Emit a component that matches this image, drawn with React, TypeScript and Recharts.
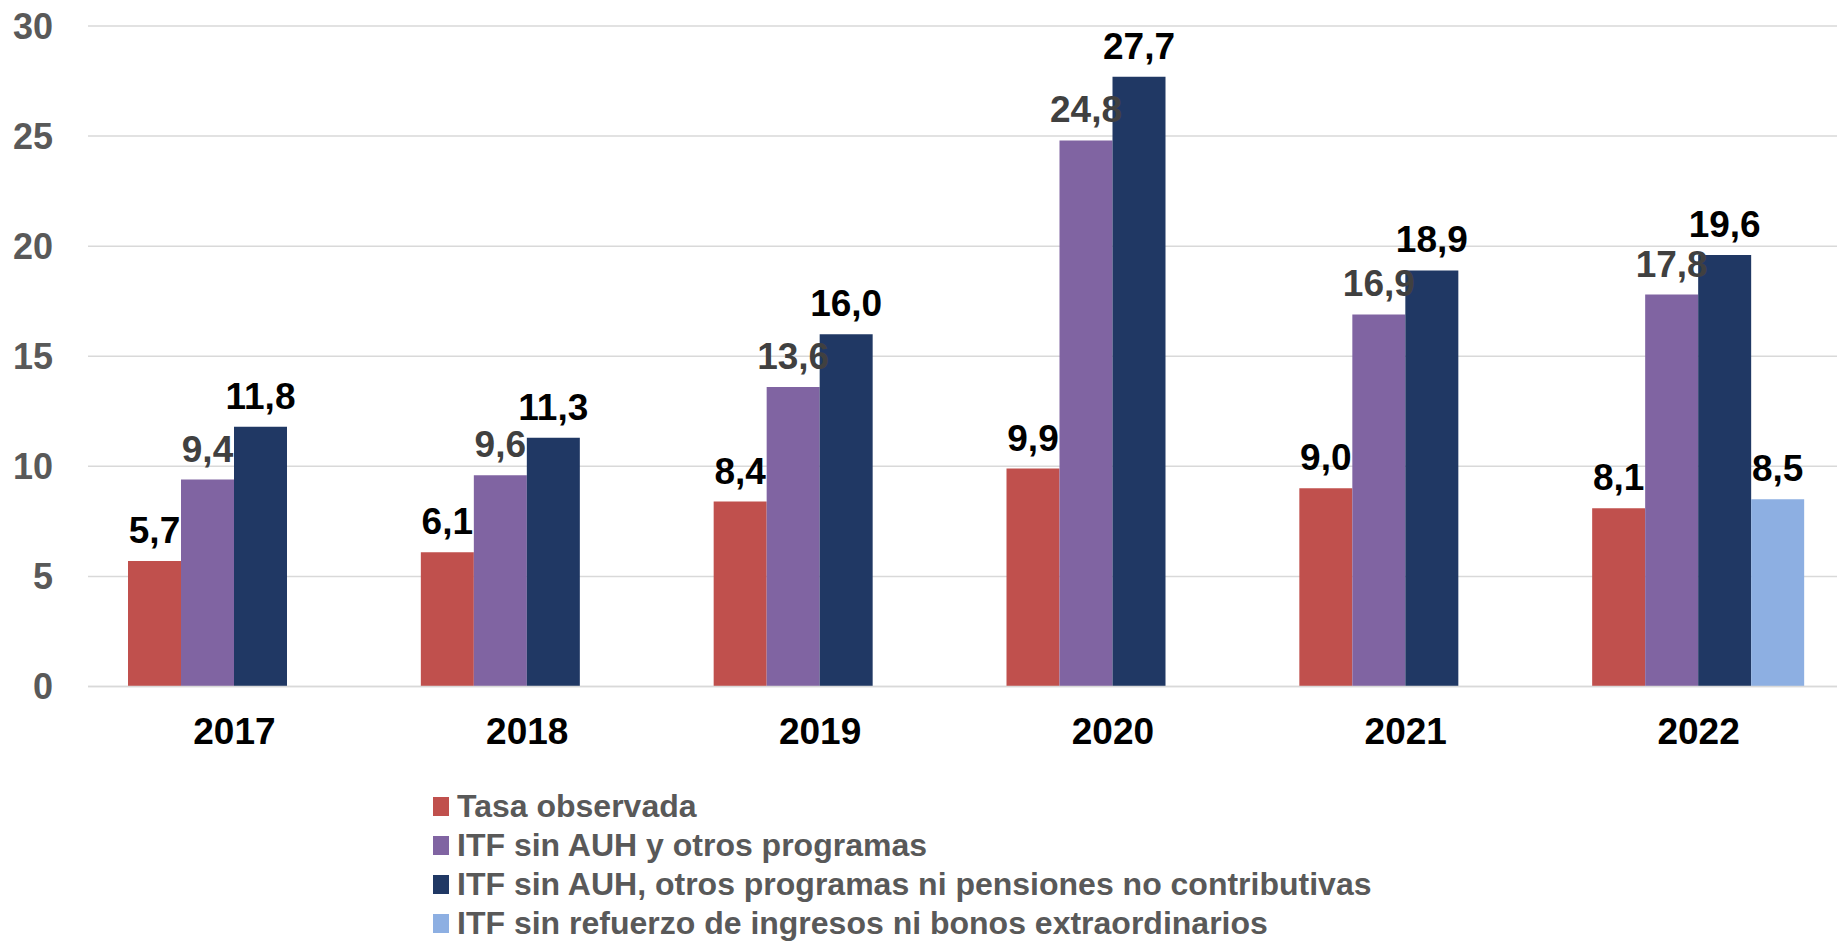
import React from "react";
import {
  BarChart,
  Bar,
  XAxis,
  YAxis,
  CartesianGrid,
  LabelList,
  Legend,
} from "recharts";

const years = ["2017", "2018", "2019", "2020", "2021", "2022"];
const tasaObservada = [5.7, 6.1, 8.4, 9.9, 9.0, 8.1];
const sinAuh = [9.4, 9.6, 13.6, 24.8, 16.9, 17.8];
const sinAuhNiPensiones = [11.8, 11.3, 16.0, 27.7, 18.9, 19.6];
const sinRefuerzo: (number | null)[] = [null, null, null, null, null, 8.5];
const yTicks = [0, 5, 10, 15, 20, 25, 30];

const series = [
  { key: "tasa", name: "Tasa observada", color: "#C0504D", labelColor: "#000000" },
  { key: "sinAuh", name: "ITF sin AUH y otros programas", color: "#8064A2", labelColor: "#404040" },
  { key: "sinAuhPnc", name: "ITF sin AUH, otros programas ni pensiones no contributivas", color: "#203864", labelColor: "#000000" },
  { key: "sinRefuerzo", name: "ITF sin refuerzo de ingresos ni bonos extraordinarios", color: "#8DAFE2", labelColor: "#000000" },
];

const data = years.map((year, i) => ({
  year,
  tasa: tasaObservada[i],
  sinAuh: sinAuh[i],
  sinAuhPnc: sinAuhNiPensiones[i],
  sinRefuerzo: sinRefuerzo[i],
}));

const FONT = '"Liberation Sans", Arial, sans-serif';

const fmt = (v: any) => (v == null ? "" : Number(v).toFixed(1).replace(".", ","));

function LegendBox() {
  return (
    <div style={{ height: 156, fontFamily: FONT }}>
      {series.map((s) => (
        <div
          key={s.key}
          style={{ display: "flex", alignItems: "center", height: 39 }}
        >
          <span
            style={{
              display: "inline-block",
              width: 16,
              height: 19,
              background: s.color,
              marginRight: 8,
            }}
          />
          <span
            style={{
              fontSize: 32,
              fontWeight: 700,
              color: "#595959",
              whiteSpace: "nowrap",
            }}
          >
            {s.name}
          </span>
        </div>
      ))}
    </div>
  );
}

export default function App() {
  return (
    <div
      style={{
        position: "absolute",
        left: 0,
        top: 0,
        width: 1837,
        height: 943,
        overflow: "hidden",
        background: "#fff",
      }}
    >
      <BarChart
        width={1850}
        height={943}
        data={data}
        margin={{ top: 26, right: 5, bottom: 0, left: 0 }}
        barCategoryGap={40}
        barGap={0}
      >
        <CartesianGrid vertical={false} stroke="#d9d9d9" strokeWidth={1.5} />
        <XAxis
          dataKey="year"
          height={100.5}
          tickLine={false}
          axisLine={{ stroke: "#d9d9d9", strokeWidth: 1.5 }}
          tickMargin={25}
          tick={{ fontSize: 37, fontWeight: 700, fill: "#000", fontFamily: FONT }}
        />
        <YAxis
          width={88}
          domain={[0, 30]}
          ticks={yTicks}
          tickLine={false}
          axisLine={false}
          tickMargin={29}
          tick={{ fontSize: 36, fontWeight: 700, fill: "#595959", fontFamily: FONT }}
        />
        <Legend
          verticalAlign="bottom"
          align="left"
          content={() => <LegendBox />}
          wrapperStyle={{ left: 433, width: 1150 }}
        />
        {series.map((s) => (
          <Bar
            key={s.key}
            dataKey={s.key}
            name={s.name}
            fill={s.color}
            isAnimationActive={false}
          >
            <LabelList
              dataKey={s.key}
              position="top"
              offset={18}
              formatter={fmt}
              style={{
                fontSize: 37,
                fontWeight: 700,
                fill: s.labelColor,
                fontFamily: FONT,
              }}
            />
          </Bar>
        ))}
      </BarChart>
    </div>
  );
}
